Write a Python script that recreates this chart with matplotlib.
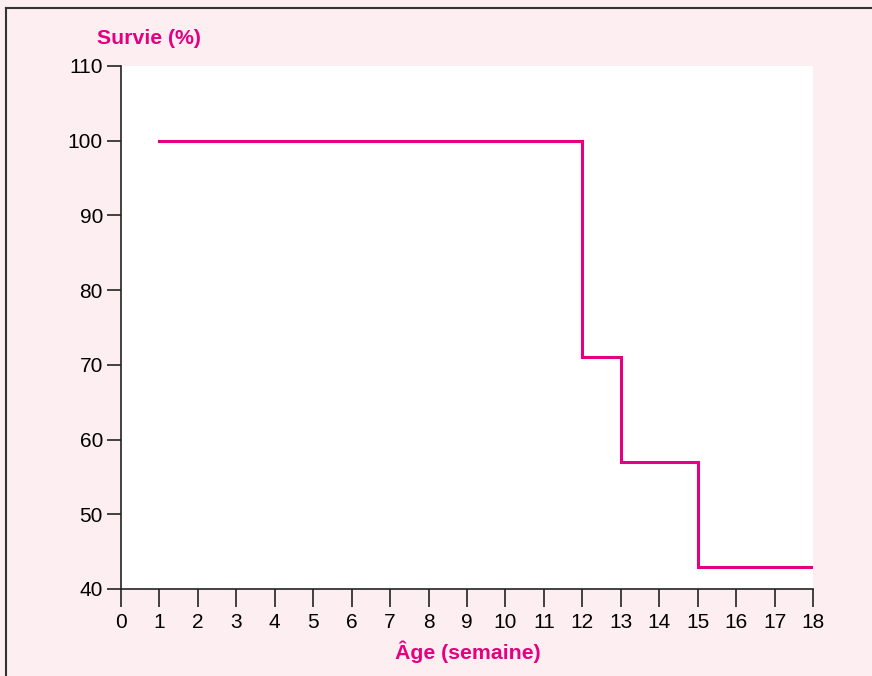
import matplotlib
matplotlib.use('Agg')
import matplotlib.pyplot as plt
from matplotlib.lines import Line2D

plt.rcParams['font.family'] = ['Liberation Sans', 'DejaVu Sans']

# step survival curve
weeks = [1, 12, 13, 15, 18]
survie = [100, 71, 57, 43, 43]

magenta = '#e4007f'
pink_bg = '#fdeef1'

fig = plt.figure(figsize=(8.72, 6.76), dpi=100, facecolor=pink_bg)
ax = fig.add_axes([121 / 872, 1 - 589 / 676, 692 / 872, 523 / 676])
ax.set_facecolor('white')

ax.step(weeks, survie, where='post', color=magenta, lw=2.2, solid_joinstyle='miter')

ax.set_xlim(0, 18)
ax.set_ylim(40, 110)
ax.set_xticks(range(0, 19))
ax.set_yticks(range(40, 111, 10))
for s in ['top', 'right']:
    ax.spines[s].set_visible(False)
for s in ['left', 'bottom']:
    ax.spines[s].set_color('#222222')
    ax.spines[s].set_linewidth(1.2)
ax.tick_params(axis='both', direction='out', color='#222222', width=1.2, labelsize=15)
ax.tick_params(axis='y', length=10, pad=3)
ax.tick_params(axis='x', length=13, pad=4)
for lab in ax.get_xticklabels():
    lab.set_family(['Liberation Sans Narrow', 'Liberation Sans', 'DejaVu Sans'])

fig.text(97 / 872, 1 - 38 / 676, 'Survie (%)', color=magenta, fontsize=15.3,
         fontweight='bold', ha='left', va='center')
fig.text(468 / 872, 1 - 652 / 676, 'Âge (semaine)', color=magenta, fontsize=15.3,
         fontweight='bold', ha='center', va='center')

# frame border (top and left)
fig.add_artist(Line2D([6 / 872, 6 / 872], [0, 1 - 8 / 676], transform=fig.transFigure,
                      color='#333333', lw=1.5))
fig.add_artist(Line2D([6 / 872, 1], [1 - 8 / 676, 1 - 8 / 676], transform=fig.transFigure,
                      color='#333333', lw=1.5))

fig.savefig('out.png', dpi=100, facecolor=pink_bg)
